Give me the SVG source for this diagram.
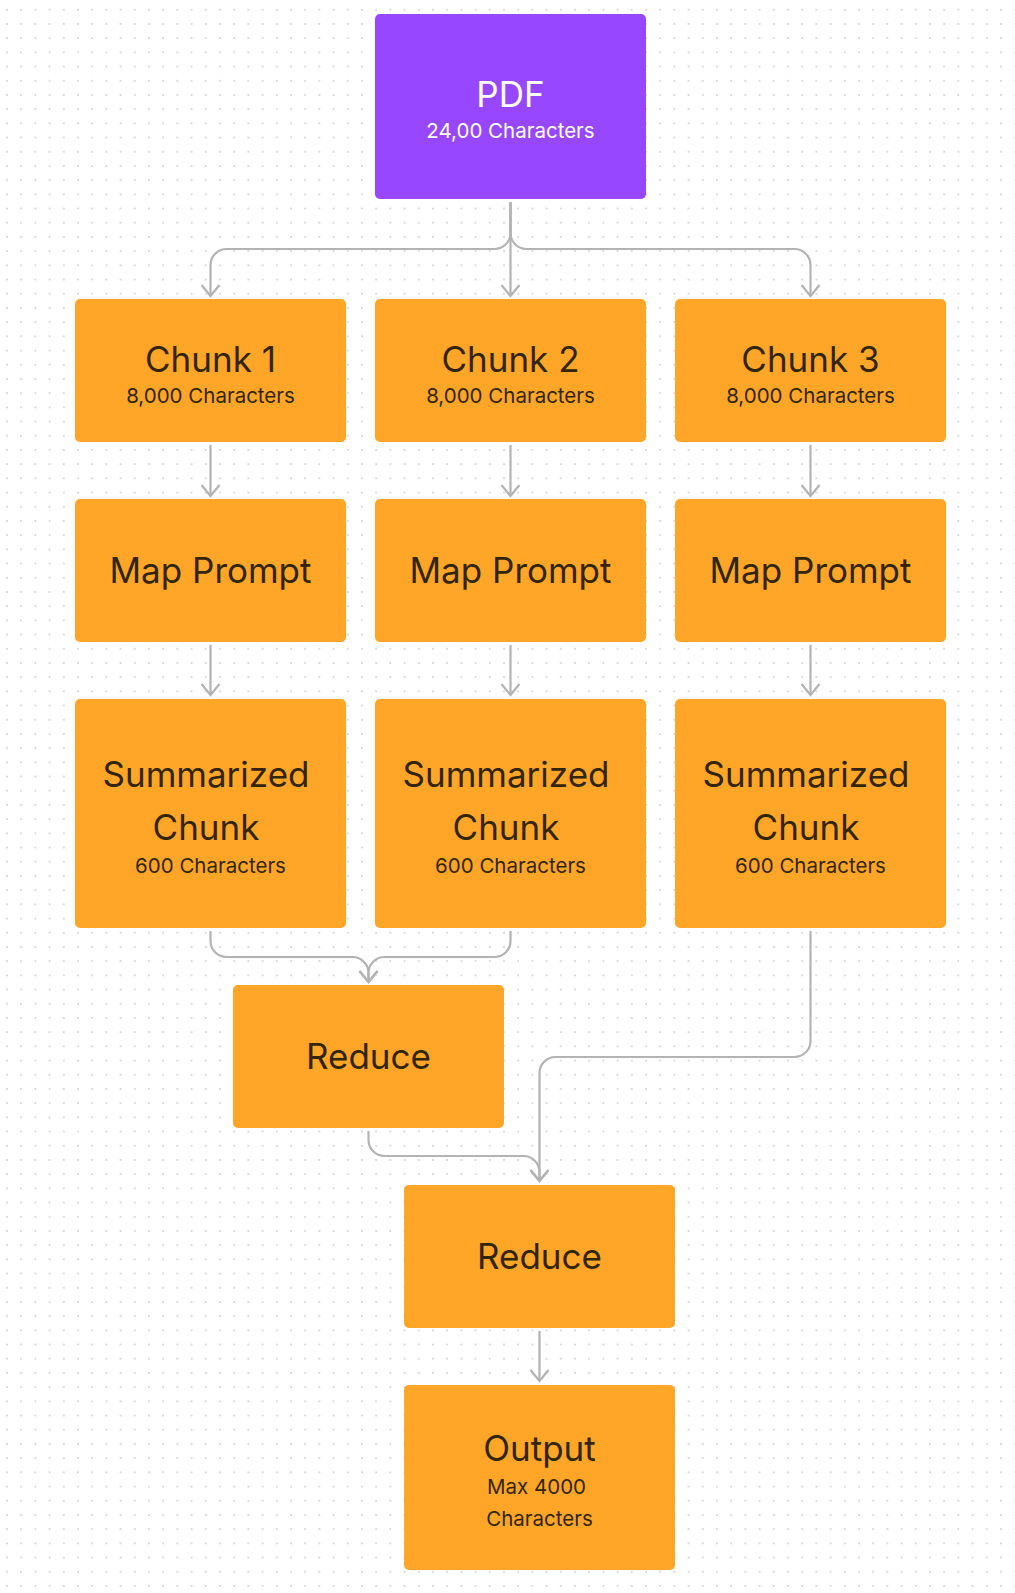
<svg xmlns="http://www.w3.org/2000/svg" width="1015" height="1593" viewBox="0 0 1015 1593">
<style>
.box{fill:#FFA629;}
.pdf{fill:#9747FF;}
.t{font-family:Inter,"Noto Sans","Liberation Sans",sans-serif;font-size:35px;fill:#33250A;text-anchor:middle;}
.s{font-family:Inter,"Noto Sans","Liberation Sans",sans-serif;font-size:20.5px;fill:#33250A;text-anchor:middle;}
.w{fill:#FFFFFF;}
.c{fill:none;stroke:#B3B3B3;stroke-width:2.2;}
</style>
<defs>
<pattern id="dots" x="6" y="8.8" width="14.2" height="14.2" patternUnits="userSpaceOnUse">
<circle cx="1" cy="1" r="1" fill="#CFCFCF"/>
</pattern>
<marker id="arr" markerUnits="userSpaceOnUse" viewBox="-14 -12 16 24" markerWidth="16" markerHeight="24" refX="0" refY="0" orient="auto">
<path d="M-11,-9 L0,0 L-11,9" fill="none" stroke="#B3B3B3" stroke-width="2.2"/>
</marker>
</defs>
<rect width="1015" height="1593" fill="#FFFFFF"/>
<rect width="1015" height="1593" fill="url(#dots)"/>

<g id="connectors">
<path class="c" marker-end="url(#arr)" d="M510.5,202 V233 A16,16 0 0 1 494.5,249 H226.5 A16,16 0 0 0 210.5,265 V296"/>
<path class="c" marker-end="url(#arr)" d="M510.5,202 V296"/>
<path class="c" marker-end="url(#arr)" d="M510.5,202 V233 A16,16 0 0 0 526.5,249 H794.5 A16,16 0 0 1 810.5,265 V296"/>
<path class="c" marker-end="url(#arr)" d="M210.5,445 V496"/>
<path class="c" marker-end="url(#arr)" d="M510.5,445 V496"/>
<path class="c" marker-end="url(#arr)" d="M810.5,445 V496"/>
<path class="c" marker-end="url(#arr)" d="M210.5,645 V695"/>
<path class="c" marker-end="url(#arr)" d="M510.5,645 V695"/>
<path class="c" marker-end="url(#arr)" d="M810.5,645 V695"/>
<path class="c" marker-end="url(#arr)" d="M210.5,931 V941 A16,16 0 0 0 226.5,957 H352.5 A16,16 0 0 1 368.5,973 V982"/>
<path class="c" marker-end="url(#arr)" d="M510.5,931 V941 A16,16 0 0 1 494.5,957 H384.5 A16,16 0 0 0 368.5,973 V982"/>
<path class="c" marker-end="url(#arr)" d="M810.5,931 V1041 A16,16 0 0 1 794.5,1057 H555.5 A16,16 0 0 0 539.5,1073 V1181"/>
<path class="c" marker-end="url(#arr)" d="M368.5,1131 V1140 A16,16 0 0 0 384.5,1156 H523.5 A16,16 0 0 1 539.5,1172 V1181"/>
<path class="c" marker-end="url(#arr)" d="M539.5,1331 V1381"/>
</g>

<g id="pdf">
<rect class="pdf" x="375" y="14" width="271" height="185" rx="5"/>
<text class="t w" x="510.5" y="106.5">PDF</text>
<text class="s w" x="510.5" y="138.3">24,00 Characters</text>
</g>

<g id="chunk1">
<rect class="box" x="75" y="299" width="271" height="143" rx="5"/>
<text class="t" x="210.5" y="371.7">Chunk 1</text>
<text class="s" x="210.5" y="402.7">8,000 Characters</text>
</g>
<g id="chunk2">
<rect class="box" x="375" y="299" width="271" height="143" rx="5"/>
<text class="t" x="510.5" y="371.7">Chunk 2</text>
<text class="s" x="510.5" y="402.7">8,000 Characters</text>
</g>
<g id="chunk3">
<rect class="box" x="675" y="299" width="271" height="143" rx="5"/>
<text class="t" x="810.5" y="371.7">Chunk 3</text>
<text class="s" x="810.5" y="402.7">8,000 Characters</text>
</g>

<g id="map1">
<rect class="box" x="75" y="499" width="271" height="143" rx="5"/>
<text class="t" x="210.5" y="583">Map Prompt</text>
</g>
<g id="map2">
<rect class="box" x="375" y="499" width="271" height="143" rx="5"/>
<text class="t" x="510.5" y="583">Map Prompt</text>
</g>
<g id="map3">
<rect class="box" x="675" y="499" width="271" height="143" rx="5"/>
<text class="t" x="810.5" y="583">Map Prompt</text>
</g>

<g id="summary1">
<rect class="box" x="75" y="699" width="271" height="229" rx="5"/>
<text class="t" x="206" y="787">Summarized</text>
<text class="t" x="206" y="840">Chunk</text>
<text class="s" x="210.5" y="873">600 Characters</text>
</g>
<g id="summary2">
<rect class="box" x="375" y="699" width="271" height="229" rx="5"/>
<text class="t" x="506" y="787">Summarized</text>
<text class="t" x="506" y="840">Chunk</text>
<text class="s" x="510.5" y="873">600 Characters</text>
</g>
<g id="summary3">
<rect class="box" x="675" y="699" width="271" height="229" rx="5"/>
<text class="t" x="806" y="787">Summarized</text>
<text class="t" x="806" y="840">Chunk</text>
<text class="s" x="810.5" y="873">600 Characters</text>
</g>

<g id="reduce1">
<rect class="box" x="233" y="985" width="271" height="143" rx="5"/>
<text class="t" x="368.5" y="1069">Reduce</text>
</g>
<g id="reduce2">
<rect class="box" x="404" y="1185" width="271" height="143" rx="5"/>
<text class="t" x="539.5" y="1269">Reduce</text>
</g>

<g id="output">
<rect class="box" x="404" y="1385" width="271" height="185" rx="5"/>
<text class="t" x="539.5" y="1461">Output</text>
<text class="s" x="536.5" y="1494">Max 4000</text>
<text class="s" x="539.5" y="1526">Characters</text>
</g>
</svg>
